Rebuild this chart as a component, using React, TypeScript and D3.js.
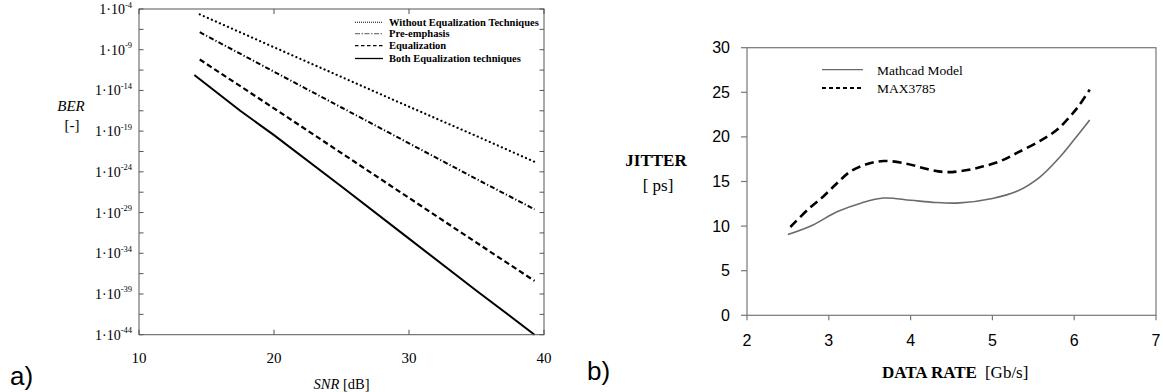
import React from 'react';
import * as d3 from 'd3';

// ---- panel a) BER vs SNR ----
const snrWithout = [14.5, 20, 25, 30, 35, 39.3];
const berWithout = [2.2e-5, 2.0e-9, 4.5e-13, 1.0e-16, 2.5e-20, 1.7e-23];
const snrPre = [14.5, 20, 25, 30, 35, 39.3];
const berPre = [1.4e-7, 2.0e-12, 8.0e-17, 3.2e-21, 1.3e-25, 2.5e-29];
const snrEq = [14.5, 20, 25, 30, 35, 39.3];
const berEq = [6.3e-11, 6.3e-17, 2.0e-22, 6.3e-28, 2.0e-33, 4.0e-38];
const snrBoth = [14.1, 17.5, 20, 25, 30, 35, 39.3];
const berBoth = [8.0e-13, 3.2e-17, 3.2e-20, 1.6e-26, 6.3e-33, 2.5e-39, 1.0e-44];

const snrTicks = [10, 20, 30, 40];
const berExpLabels = [-4, -9, -14, -19, -24, -29, -34, -39, -44];
const berExpTicks = [-4, -6.5, -9, -11.5, -14, -16.5, -19, -21.5, -24, -26.5, -29, -31.5, -34, -36.5, -39, -41.5, -44];

const legendA = ['Without Equalization Techniques', 'Pre-emphasis', 'Equalization', 'Both Equalization techniques'];

// ---- panel b) jitter vs data rate ----
const rateMathcad = [2.5, 2.8, 3.1, 3.4, 3.67, 4.0, 4.3, 4.6, 5.0, 5.3, 5.58, 5.83, 6.0, 6.19];
const jitMathcad = [9.05, 10.1, 11.6, 12.6, 13.15, 12.9, 12.65, 12.6, 13.1, 13.9, 15.5, 17.8, 19.7, 21.9];
const rateMax = [2.53, 2.75, 2.93, 3.1, 3.26, 3.45, 3.67, 3.95, 4.2, 4.44, 4.7, 4.89, 5.1, 5.3, 5.6, 5.79, 5.95, 6.05, 6.19];
const jitMax = [9.9, 11.9, 13.3, 14.8, 16.1, 16.9, 17.3, 17.0, 16.4, 16.05, 16.3, 16.7, 17.3, 18.2, 19.65, 20.8, 22.3, 23.4, 25.3];

const rateTicks = [2, 3, 4, 5, 6, 7];
const jitTicks = [0, 5, 10, 15, 20, 25, 30];
const legendB = ['Mathcad Model', 'MAX3785'];

const serif = '"Liberation Serif", "DejaVu Serif", serif';
const sans = '"Liberation Sans", Arial, sans-serif';

const PanelA = () => {
  const L = 139, R = 544, T = 9, B = 334.7;
  const x = d3.scaleLinear().domain([10, 40]).range([L, R]);
  const y = d3.scaleLog().domain([1e-44, 1e-4]).range([B, T]);
  const line = d3.line<[number, number]>().x(d => x(d[0])).y(d => y(d[1]));
  const zip = (a: number[], b: number[]) => a.map((v, i) => [v, b[i]] as [number, number]);
  const series = [
    { d: zip(snrWithout, berWithout), dash: '0.1 4.3', w: 2.2, cap: 'round' },
    { d: zip(snrPre, berPre), dash: '5 2.2 1.2 2.2', w: 2, cap: 'butt' },
    { d: zip(snrEq, berEq), dash: '5.5 3.2', w: 2.2, cap: 'butt' },
    { d: zip(snrBoth, berBoth), dash: 'none', w: 2, cap: 'butt' },
  ];
  const legDash = ['1 1', '5 1.5 1.5 1.5', '3.5 2.5', 'none'];
  const legCol = ['#000', '#777', '#000', '#000'];
  const legY = [22.3, 33.6, 45.6, 58.5];
  return (
    <g>
      {series.map((s, i) => (
        <path key={i} d={line(s.d) || ''} fill="none" stroke="#000" strokeWidth={s.w}
          strokeDasharray={s.dash} strokeLinecap={s.cap as any} />
      ))}
      <rect x={L} y={T} width={R - L} height={B - T} fill="none" stroke="#555" strokeWidth={1} />
      {berExpTicks.map(e => (
        <g key={e}>
          <line x1={L} x2={L + 4.5} y1={y(Math.pow(10, e))} y2={y(Math.pow(10, e))} stroke="#555" />
          <line x1={R} x2={R - 4.5} y1={y(Math.pow(10, e))} y2={y(Math.pow(10, e))} stroke="#555" />
        </g>
      ))}
      {snrTicks.map(t => (
        <g key={t}>
          <line x1={x(t)} x2={x(t)} y1={B} y2={B - 5} stroke="#555" />
          <line x1={x(t)} x2={x(t)} y1={T} y2={T + 5} stroke="#555" />
          <text x={x(t)} y={363} textAnchor="middle" fontFamily={serif} fontSize={15}>{t}</text>
        </g>
      ))}
      {berExpLabels.map(e => (
        <text key={e} x={132} y={y(Math.pow(10, e)) + 5} textAnchor="end" fontFamily={serif} fontSize={14}>
          1·10<tspan dy={-6.5} fontSize={8.5}>{e}</tspan>
        </text>
      ))}
      <text x={71} y={111} textAnchor="middle" fontFamily={serif} fontSize={15} fontStyle="italic">BER</text>
      <text x={72} y={130} textAnchor="middle" fontFamily={serif} fontSize={15}>[-]</text>
      <text x={(L + R) / 2} y={389} textAnchor="middle" fontFamily={serif} fontSize={14.5}>
        <tspan fontStyle="italic">SNR</tspan> [dB]
      </text>
      {legendA.map((t, i) => (
        <g key={t}>
          <line x1={355} x2={383} y1={legY[i]} y2={legY[i]} stroke={legCol[i]}
            strokeWidth={i === 3 ? 1.3 : 1.1} strokeDasharray={legDash[i]} />
          <text x={389} y={legY[i] + 3.5} fontFamily={serif} fontSize={10.5} fontWeight="bold">{t}</text>
        </g>
      ))}
      <text x={10} y={385} fontFamily={sans} fontSize={26}>a)</text>
    </g>
  );
};

const PanelB = () => {
  const L = 747, R = 1156, T = 47.7, B = 315.3;
  const x = d3.scaleLinear().domain([2, 7]).range([L, R]);
  const y = d3.scaleLinear().domain([0, 30]).range([B, T]);
  const line = d3.line<[number, number]>().x(d => x(d[0])).y(d => y(d[1])).curve(d3.curveCatmullRom);
  const mathcad = rateMathcad.map((v, i) => [v, jitMathcad[i]] as [number, number]);
  const max = rateMax.map((v, i) => [v, jitMax[i]] as [number, number]);
  return (
    <g>
      <path d={line(mathcad) || ''} fill="none" stroke="#6a6a6a" strokeWidth={1.6} />
      <path d={line(max) || ''} fill="none" stroke="#000" strokeWidth={2.6} strokeDasharray="9 5" />
      <rect x={L} y={T} width={R - L} height={B - T} fill="none" stroke="#777" strokeWidth={1.2} />
      {jitTicks.map(t => (
        <g key={t}>
          <line x1={L - 6} x2={L} y1={y(t)} y2={y(t)} stroke="#777" strokeWidth={1.2} />
          <text x={730} y={y(t) + 5.5} textAnchor="end" fontFamily={sans} fontSize={16}>{t}</text>
        </g>
      ))}
      {rateTicks.map(t => (
        <g key={t}>
          <line x1={x(t)} x2={x(t)} y1={B} y2={B + 5} stroke="#777" strokeWidth={1.2} />
          <text x={x(t)} y={346} textAnchor="middle" fontFamily={sans} fontSize={16}>{t}</text>
        </g>
      ))}
      <text x={656} y={166} textAnchor="middle" fontFamily={serif} fontSize={17} fontWeight="bold">JITTER</text>
      <text x={658} y={191} textAnchor="middle" fontFamily={serif} fontSize={17}>[ ps]</text>
      <text x={882} y={378} fontFamily={serif} fontSize={17}>
        <tspan fontWeight="bold">DATA RATE</tspan>
        <tspan dx={8}>[Gb/s]</tspan>
      </text>
      <line x1={822} x2={863} y1={69.7} y2={69.7} stroke="#6a6a6a" strokeWidth={1.3} />
      <line x1={822} x2={863} y1={88} y2={88} stroke="#000" strokeWidth={1.8} strokeDasharray="4 3" />
      {legendB.map((t, i) => (
        <text key={t} x={877} y={(i === 0 ? 70.7 : 88.5) + 4.5} fontFamily={serif} fontSize={13.5}>{t}</text>
      ))}
      <text x={587} y={380} fontFamily={sans} fontSize={26}>b)</text>
    </g>
  );
};

export default function App() {
  return (
    <svg width={1163} height={392} style={{ position: 'absolute', left: 0, top: 0, background: '#fff' }}>
      <PanelA />
      <PanelB />
    </svg>
  );
}
